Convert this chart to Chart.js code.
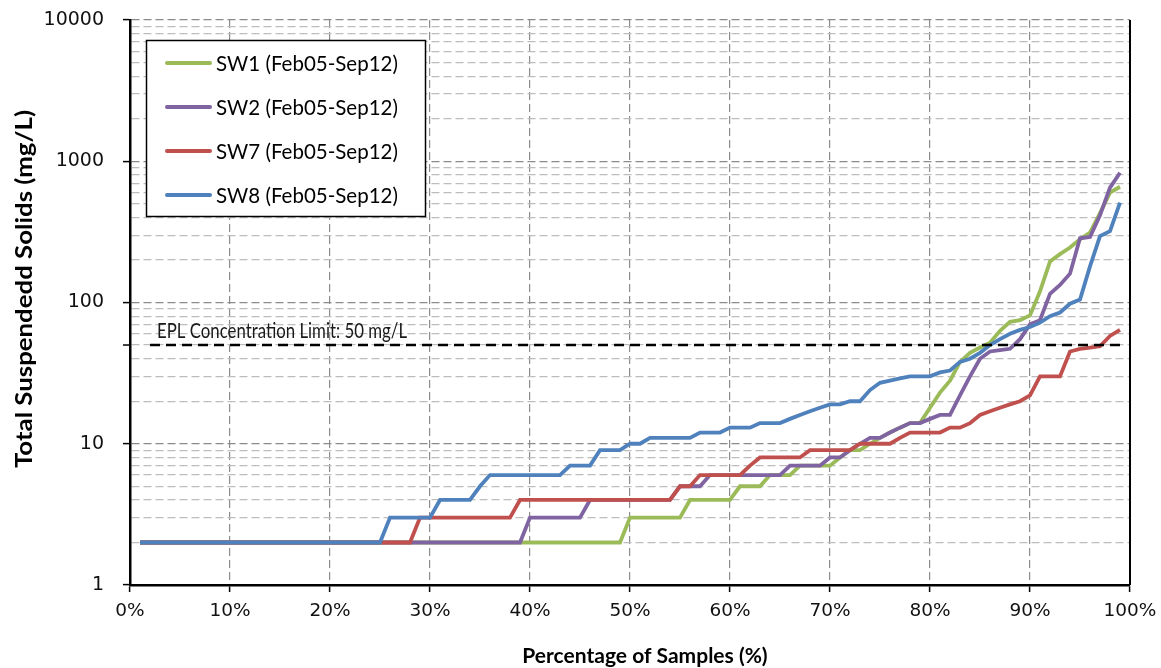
<!DOCTYPE html>
<html>
<head>
<meta charset="utf-8">
<title>Total Suspended Solids - exceedance</title>
<script src="https://cdn.jsdelivr.net/npm/chart.js@4.4.0/dist/chart.umd.min.js"></script>
<style>
    html, body { margin: 0; padding: 0; background: #fff; }
    #wrap { position: relative; width: 1161px; height: 668px; }
</style>
</head>
<body>
<div id="wrap"><canvas id="tssChart"></canvas></div>
<script>
// percentage of samples (x positions of each sorted sample)
const pct = [
    1, 2, 3, 4, 5, 6, 7, 8, 9, 10, 11, 12, 13, 14, 15, 16, 17, 18, 19, 20,
    21, 22, 23, 24, 25, 26, 27, 28, 29, 30, 31, 32, 33, 34, 35, 36, 37, 38, 39, 40,
    41, 42, 43, 44, 45, 46, 47, 48, 49, 50, 51, 52, 53, 54, 55, 56, 57, 58, 59, 60,
    61, 62, 63, 64, 65, 66, 67, 68, 69, 70, 71, 72, 73, 74, 75, 76, 77, 78, 79, 80,
    81, 82, 83, 84, 85, 86, 87, 88, 89, 90, 91, 92, 93, 94, 95, 96, 97, 98, 99
];

// TSS (mg/L)
const sw1 = [
    2, 2, 2, 2, 2, 2, 2, 2, 2, 2, 2, 2, 2, 2, 2, 2, 2, 2, 2, 2,
    2, 2, 2, 2, 2, 2, 2, 2, 2, 2, 2, 2, 2, 2, 2, 2, 2, 2, 2, 2,
    2, 2, 2, 2, 2, 2, 2, 2, 2, 3, 3, 3, 3, 3, 3, 4, 4, 4, 4, 4,
    5, 5, 5, 6, 6, 6, 7, 7, 7, 7, 8, 9, 9, 10, 11, 12, 13, 14, 14, 18,
    23, 28, 38, 44, 48, 52, 63, 73, 75, 81, 120, 195, 220, 245, 280, 313, 430, 600, 660
];
const sw2 = [
    2, 2, 2, 2, 2, 2, 2, 2, 2, 2, 2, 2, 2, 2, 2, 2, 2, 2, 2, 2,
    2, 2, 2, 2, 2, 2, 2, 2, 2, 2, 2, 2, 2, 2, 2, 2, 2, 2, 2, 3,
    3, 3, 3, 3, 3, 4, 4, 4, 4, 4, 4, 4, 4, 4, 5, 5, 5, 6, 6, 6,
    6, 6, 6, 6, 6, 7, 7, 7, 7, 8, 8, 9, 10, 11, 11, 12, 13, 14, 14, 15,
    16, 16, 22, 30, 40, 45, 46, 47, 55, 70, 75, 115, 133, 160, 285, 291, 415, 650, 830
];
const sw7 = [
    2, 2, 2, 2, 2, 2, 2, 2, 2, 2, 2, 2, 2, 2, 2, 2, 2, 2, 2, 2,
    2, 2, 2, 2, 2, 2, 2, 2, 3, 3, 3, 3, 3, 3, 3, 3, 3, 3, 4, 4,
    4, 4, 4, 4, 4, 4, 4, 4, 4, 4, 4, 4, 4, 4, 5, 5, 6, 6, 6, 6,
    6, 7, 8, 8, 8, 8, 8, 9, 9, 9, 9, 9, 10, 10, 10, 10, 11, 12, 12, 12,
    12, 13, 13, 14, 16, 17, 18, 19, 20, 22, 30, 30, 30, 45, 47, 48, 49, 58, 64
];
const sw8 = [
    2, 2, 2, 2, 2, 2, 2, 2, 2, 2, 2, 2, 2, 2, 2, 2, 2, 2, 2, 2,
    2, 2, 2, 2, 2, 3, 3, 3, 3, 3, 4, 4, 4, 4, 5, 6, 6, 6, 6, 6,
    6, 6, 6, 7, 7, 7, 9, 9, 9, 10, 10, 11, 11, 11, 11, 11, 12, 12, 12, 13,
    13, 13, 14, 14, 14, 15, 16, 17, 18, 19, 19, 20, 20, 24, 27, 28, 29, 30, 30, 30,
    32, 33, 38, 40, 44, 50, 55, 60, 64, 67, 72, 80, 85, 98, 105, 180, 295, 320, 510
];

const seriesNames = ['SW1 (Feb05-Sep12)', 'SW2 (Feb05-Sep12)', 'SW7 (Feb05-Sep12)', 'SW8 (Feb05-Sep12)'];
const seriesColors = ['#9bbb59', '#8064a2', '#c0504d', '#4f81bd'];
const seriesValues = [sw1, sw2, sw7, sw8];

// EPL limit line
const eplLimit = 50;
const eplSpan = [2, 99.3];
const eplText = 'EPL Concentration Limit: 50 mg/L';

// axis ticks
const xTicks = [0, 10, 20, 30, 40, 50, 60, 70, 80, 90, 100];
const yMajor = [1, 10, 100, 1000, 10000];
const yMinorSteps = [2, 3, 4, 5, 6, 7, 8, 9];

const xTitle = 'Percentage of Samples (%)';
const yTitle = 'Total Suspendedd Solids (mg/L)';

const titleFont = "bold 21px Lato, 'Open Sans', sans-serif";
const legendFont = "20.5px Lato, 'Open Sans', sans-serif";
const labelFont = "21px Lato, 'Open Sans', sans-serif";

function isMajor(v) {
    return yMajor.includes(v);
}

function toPoints(values) {
    return values.map((v, i) => ({ x: pct[i], y: v }));
}

// draw text squeezed/stretched to a given width (the source font is narrower)
function fitText(ctx, text, x, y, width) {
    const k = width / ctx.measureText(text).width;
    ctx.save();
    ctx.translate(x, y);
    ctx.scale(k, 1);
    ctx.fillText(text, 0, 0);
    ctx.restore();
}

// legend box, axis titles, limit label, right border
const decorPlugin = {
    id: 'decor',
    afterDatasetsDraw(chart) {
        const { ctx, chartArea, scales } = chart;
        const y50 = scales.y.getPixelForValue(eplLimit);

        ctx.save();
        // solid right border of the plot
        ctx.strokeStyle = '#000';
        ctx.lineWidth = 2;
        ctx.beginPath();
        ctx.moveTo(chartArea.right, chartArea.top);
        ctx.lineTo(chartArea.right, chartArea.bottom);
        ctx.stroke();

        // little tick on the y axis at the limit
        ctx.lineWidth = 1.5;
        ctx.beginPath();
        ctx.moveTo(chartArea.left - 7, y50);
        ctx.lineTo(chartArea.left, y50);
        ctx.stroke();

        // limit label
        ctx.fillStyle = '#1a1a1a';
        ctx.font = labelFont;
        ctx.textAlign = 'left';
        ctx.textBaseline = 'alphabetic';
        fitText(ctx, eplText, 157, y50 - 7, 250);

        // legend
        const lx = 146, ly = 40, lw = 279, lh = 176;
        ctx.fillStyle = '#fff';
        ctx.fillRect(lx, ly, lw, lh);
        ctx.lineWidth = 1.5;
        ctx.strokeStyle = '#000';
        ctx.strokeRect(lx + 0.5, ly + 0.5, lw, lh);
        ctx.font = legendFont;
        ctx.textBaseline = 'middle';
        seriesNames.forEach((name, i) => {
            const ry = ly + 23 + i * 44;
            ctx.strokeStyle = seriesColors[i];
            ctx.lineWidth = 4;
            ctx.lineCap = 'round';
            ctx.beginPath();
            ctx.moveTo(167, ry);
            ctx.lineTo(210, ry);
            ctx.stroke();
            ctx.fillStyle = '#000';
            ctx.fillText(name, 216, ry + 1);
        });

        // axis titles
        ctx.font = titleFont;
        ctx.fillStyle = '#000';
        ctx.textAlign = 'center';
        ctx.fillText(xTitle, 645, 656);
        ctx.translate(25, 289);
        ctx.rotate(-Math.PI / 2);
        // the vertical title is set wider than the horizontal one
        const stretch = 358 / ctx.measureText(yTitle).width;
        ctx.scale(stretch, 1.05);
        ctx.fillText(yTitle, 0, 0);
        ctx.restore();
    }
};

function initChart() {
    const ctx = document.getElementById('tssChart').getContext('2d');

    const datasets = seriesValues.map((vals, i) => ({
        label: seriesNames[i],
        data: toPoints(vals),
        borderColor: seriesColors[i],
        borderWidth: 3.8,
        pointRadius: 0,
        fill: false,
        tension: 0,
        order: 5 - i
    }));
    datasets.push({
        label: 'EPL',
        data: eplSpan.map(x => ({ x: x, y: eplLimit })),
        borderColor: '#000',
        borderWidth: 2.5,
        borderDash: [10, 6],
        pointRadius: 0,
        fill: false,
        order: 0
    });

    new Chart(ctx, {
        type: 'line',
        data: { datasets: datasets },
        options: {
            responsive: true,
            maintainAspectRatio: false,
            animation: false,
            layout: { padding: { left: 0, right: 31, top: 20, bottom: 0 } },
            plugins: {
                legend: { display: false },
                tooltip: { enabled: false }
            },
            scales: {
                x: {
                    type: 'linear',
                    min: 0,
                    max: 100,
                    afterBuildTicks: scale => { scale.ticks = xTicks.map(v => ({ value: v })); },
                    afterFit: scale => {
                        scale.height = 83;
                        scale.paddingLeft = 0;
                        scale.paddingRight = 0;
                    },
                    ticks: {
                        callback: v => v + '%',
                        color: '#111',
                        font: { family: "'DejaVu Sans'", size: 18.5 },
                        padding: 8,
                        maxRotation: 0
                    },
                    grid: {
                        color: '#8c8c8c',
                        lineWidth: 1.2,
                        tickColor: '#000',
                        tickWidth: 1.5,
                        tickLength: 7
                    },
                    border: { color: '#000', width: 2.5, dash: [8, 4] }
                },
                y: {
                    type: 'logarithmic',
                    min: 1,
                    max: 10000,
                    afterBuildTicks: scale => {
                        const ticks = [];
                        yMajor.forEach(m => {
                            ticks.push({ value: m });
                            if (m < 10000) yMinorSteps.forEach(s => ticks.push({ value: m * s }));
                        });
                        scale.ticks = ticks;
                    },
                    afterFit: scale => {
                        scale.width = 130;
                        scale.paddingTop = 0;
                        scale.paddingBottom = 0;
                    },
                    ticks: {
                        autoSkip: false,
                        callback: v => (isMajor(v) ? String(v) : ''),
                        color: '#111',
                        font: { family: "'DejaVu Sans'", size: 19 },
                        padding: 19
                    },
                    grid: {
                        color: c => (isMajor(c.tick.value) ? '#8a8a8a' : '#bdbdbd'),
                        lineWidth: 1.2,
                        tickColor: c => (isMajor(c.tick.value) ? '#000' : 'rgba(0,0,0,0)'),
                        tickWidth: 1.5,
                        tickLength: 7
                    },
                    border: { color: '#000', width: 2.5, dash: [8, 4] }
                }
            }
        },
        plugins: [decorPlugin]
    });
}

document.addEventListener('DOMContentLoaded', initChart);
</script>
</body>
</html>
